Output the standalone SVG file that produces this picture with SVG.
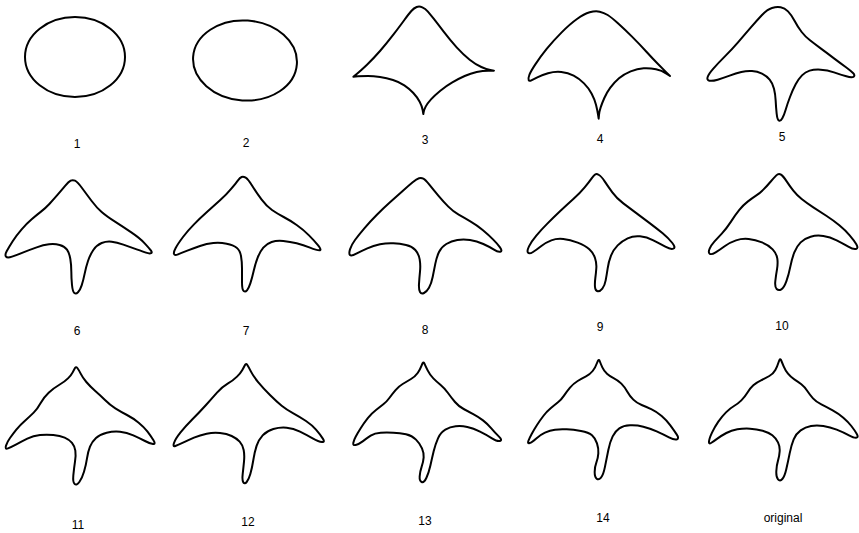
<svg xmlns="http://www.w3.org/2000/svg" width="859" height="533" viewBox="0 0 859 533">
<style>
.o{fill:none;stroke:#000;stroke-width:2}
.c{fill:none;stroke:#000;stroke-width:6;stroke-linejoin:round}
.t{font-family:"Liberation Sans",Arial,sans-serif;font-size:12px;fill:#000;text-anchor:middle}
</style>
<rect width="859" height="533" fill="#fff"/>
<g id="shape-1">
<ellipse class="o" cx="75" cy="57" rx="50" ry="40"/>
<text class="t" x="77" y="148">1</text>
</g>
<g id="shape-2">
<ellipse class="o" cx="245" cy="60.5" rx="52" ry="40" transform="rotate(4 245 60.5)"/>
<text class="t" x="246" y="147">2</text>
</g>
<g id="shape-3">
<path class="c" transform="translate(340,0) scale(0.33333)" d="M230,21 Q238,18 247,22 Q256,26 263,34 Q270,42 281,56 Q292,70 311,95 Q330,120 350,142 Q370,164 389,179 Q408,194 424,201 Q440,208 451,210 L462,212 L445,212 Q428,212 410,216 Q392,220 374,228 Q356,236 337,247 Q318,258 301,272 Q284,286 273,298 Q262,310 257,320 Q252,330 251,336 L250,342 L248,330 Q246,318 239,305 Q232,292 220,279 Q208,266 193,256 Q178,246 159,240 Q140,234 120,231 Q100,228 84,228 Q68,228 54,229 L40,230 L51,221 Q62,212 81,194 Q100,176 120,153 Q140,130 160,104 Q180,78 193,60 Q206,42 214,33 Q222,24 230,21 Z"/>
<text class="t" x="425" y="144">3</text>
</g>
<g id="shape-4">
<path class="c" transform="translate(340,0) scale(0.33333)" d="M749,37 Q766,32 779,35 Q792,38 803,45 Q814,52 833,69 Q852,86 876,110 Q900,134 920,156 Q940,178 954,192 Q968,206 979,217 L990,228 L978,220 Q966,212 948,208 Q930,204 911,205 Q892,206 872,214 Q852,222 837,235 Q822,248 811,263 Q800,278 793,294 Q786,310 782,322 Q778,334 777,345 L776,356 L774,343 Q772,330 768,314 Q764,298 755,281 Q746,264 732,250 Q718,236 701,227 Q684,218 664,216 Q644,214 624,220 Q604,226 592,232 Q580,238 574,241 Q568,244 566,240 Q564,236 568,225 Q572,214 586,193 Q600,172 620,147 Q640,122 665,97 Q690,72 711,57 Q732,42 749,37 Z"/>
<text class="t" x="600" y="143">4</text>
</g>
<g id="shape-5">
<path class="c" transform="translate(340,0) scale(0.33333)" d="M1296,24 Q1310,20 1322,22 Q1334,24 1344,34 Q1354,44 1364,63 Q1374,82 1385,96 Q1396,110 1410,121 Q1424,132 1443,146 Q1462,160 1482,175 Q1502,190 1517,201 Q1532,212 1539,219 Q1546,226 1541,230 Q1536,234 1519,229 Q1502,224 1482,217 Q1462,210 1442,209 Q1422,208 1409,212 Q1396,216 1386,226 Q1376,236 1367,253 Q1358,270 1350,291 Q1342,312 1337,329 Q1332,346 1327,355 Q1322,364 1317,362 Q1312,360 1310,341 Q1308,322 1307,302 Q1306,282 1302,266 Q1298,250 1289,239 Q1280,228 1266,221 Q1252,214 1236,213 Q1220,212 1204,216 Q1188,220 1169,227 Q1150,234 1133,239 Q1116,244 1108,242 Q1100,240 1103,231 Q1106,222 1120,206 Q1134,190 1154,170 Q1174,150 1194,127 Q1214,104 1232,83 Q1250,62 1266,45 Q1282,28 1296,24 Z"/>
<text class="t" x="782" y="141">5</text>
</g>
<g id="shape-6">
<path class="c" transform="translate(0,165) scale(0.33333)" d="M212,47 Q218,44 225,47 Q232,50 246,69 Q260,88 275,108 Q290,128 305,141 Q320,154 345,170 Q370,186 395,203 Q420,220 434,235 Q448,250 453,257 Q458,264 452,265 Q446,266 438,263 Q430,260 410,253 Q390,246 370,239 Q350,232 335,230 Q320,228 305,234 Q290,240 280,255 Q270,270 264,288 Q258,306 254,326 Q250,346 245,361 Q240,376 234,382 Q228,388 223,384 Q218,380 216,360 Q214,340 214,320 Q214,300 211,282 Q208,264 201,254 Q194,244 179,240 Q164,236 147,238 Q130,240 110,247 Q90,254 70,262 Q50,270 36,275 Q22,280 18,275 Q14,270 20,259 Q26,248 38,229 Q50,210 65,193 Q80,176 95,163 Q110,150 123,140 Q136,130 148,117 Q160,104 173,89 Q186,74 196,62 Q206,50 212,47 Z"/>
<text class="t" x="77" y="335">6</text>
</g>
<g id="shape-7">
<path class="c" transform="translate(0,165) scale(0.33333)" d="M725,36 Q730,34 737,38 Q744,42 757,63 Q770,84 785,104 Q800,124 816,135 Q832,146 851,156 Q870,166 890,180 Q910,194 927,211 Q944,228 955,242 Q966,256 958,256 Q950,256 930,248 Q910,240 890,235 Q870,230 850,228 Q830,226 815,231 Q800,236 790,248 Q780,260 773,278 Q766,296 761,318 Q756,340 751,355 Q746,370 741,376 Q736,382 731,378 Q726,374 726,352 Q726,330 726,310 Q726,290 723,273 Q720,256 710,248 Q700,240 680,236 Q660,232 640,234 Q620,236 600,243 Q580,250 562,257 Q544,264 534,268 Q524,272 522,267 Q520,262 527,249 Q534,236 549,216 Q564,196 582,178 Q600,160 620,142 Q640,124 660,106 Q680,88 694,71 Q708,54 714,46 Q720,38 725,36 Z"/>
<text class="t" x="246" y="335">7</text>
</g>
<g id="shape-8">
<path class="c" transform="translate(340,165) scale(0.33333)" d="M237,40 Q244,38 250,41 Q256,44 268,59 Q280,74 295,92 Q310,110 325,125 Q340,140 356,149 Q372,158 391,169 Q410,180 428,195 Q446,210 459,223 Q472,236 480,247 Q488,258 481,260 Q474,262 462,254 Q450,246 430,237 Q410,228 390,225 Q370,222 352,225 Q334,228 319,237 Q304,246 297,261 Q290,276 286,296 Q282,316 278,336 Q274,356 267,368 Q260,380 252,384 Q244,388 240,381 Q236,374 237,357 Q238,340 240,320 Q242,300 239,283 Q236,266 226,255 Q216,244 198,240 Q180,236 160,235 Q140,234 120,238 Q100,242 82,250 Q64,258 49,266 Q34,274 30,270 Q26,266 30,253 Q34,240 45,225 Q56,210 73,190 Q90,170 110,150 Q130,130 150,112 Q170,94 188,78 Q206,62 218,52 Q230,42 237,40 Z"/>
<text class="t" x="425" y="334">8</text>
</g>
<g id="shape-9">
<path class="c" transform="translate(430,165) scale(0.33333)" d="M496,28 Q500,26 507,30 Q514,34 524,49 Q534,64 547,82 Q560,100 580,115 Q600,130 620,145 Q640,160 660,175 Q680,190 698,205 Q716,220 727,234 Q738,248 730,251 Q722,254 706,245 Q690,236 670,226 Q650,216 630,214 Q610,212 593,220 Q576,228 563,241 Q550,254 543,272 Q536,290 533,310 Q530,330 527,346 Q524,362 517,371 Q510,380 503,379 Q496,378 495,366 Q494,354 496,339 Q498,324 499,309 Q500,294 495,279 Q490,264 478,253 Q466,242 443,233 Q420,224 400,222 Q380,220 364,226 Q348,232 334,243 Q320,254 309,261 Q298,268 294,263 Q290,258 297,244 Q304,230 319,212 Q334,194 352,176 Q370,158 390,139 Q410,120 430,102 Q450,84 464,67 Q478,50 485,40 Q492,30 496,28 Z"/>
<text class="t" x="600" y="331">9</text>
</g>
<g id="shape-10">
<path class="c" transform="translate(430,165) scale(0.33333)" d="M1039,31 Q1046,24 1053,29 Q1060,34 1070,49 Q1080,64 1090,77 Q1100,90 1115,102 Q1130,114 1150,127 Q1170,140 1190,153 Q1210,166 1228,181 Q1246,196 1259,211 Q1272,226 1279,238 Q1286,250 1278,252 Q1270,254 1255,245 Q1240,236 1220,226 Q1200,216 1180,213 Q1160,210 1142,215 Q1124,220 1112,232 Q1100,244 1093,262 Q1086,280 1081,305 Q1076,330 1069,349 Q1062,368 1054,373 Q1046,378 1040,372 Q1034,366 1036,348 Q1038,330 1041,313 Q1044,296 1042,281 Q1040,266 1028,253 Q1016,240 996,232 Q976,224 956,222 Q936,220 918,226 Q900,232 885,243 Q870,254 857,262 Q844,270 839,266 Q834,262 839,251 Q844,240 853,230 Q862,220 876,205 Q890,190 903,170 Q916,150 928,135 Q940,120 953,110 Q966,100 978,92 Q990,84 1000,74 Q1010,64 1021,51 Q1032,38 1039,31 Z"/>
<text class="t" x="782" y="330">10</text>
</g>
<g id="shape-11">
<path class="c" transform="translate(0,345) scale(0.33333)" d="M225,69 Q228,64 232,69 Q236,74 242,86 Q248,98 259,111 Q270,124 285,137 Q300,150 315,165 Q330,180 346,190 Q362,200 381,210 Q400,220 416,233 Q432,246 442,259 Q452,272 460,285 Q468,298 459,297 Q450,296 435,288 Q420,280 400,271 Q380,262 360,260 Q340,258 320,263 Q300,268 288,279 Q276,290 270,305 Q264,320 261,340 Q258,360 252,380 Q246,400 238,411 Q230,422 224,417 Q218,412 220,391 Q222,370 225,350 Q228,330 226,317 Q224,304 216,294 Q208,284 194,278 Q180,272 160,270 Q140,268 120,270 Q100,272 82,281 Q64,290 49,298 Q34,306 24,310 Q14,314 18,302 Q22,290 30,279 Q38,268 49,254 Q60,240 75,227 Q90,214 101,203 Q112,192 122,174 Q132,156 146,143 Q160,130 177,120 Q194,110 204,100 Q214,90 218,82 Q222,74 225,69 Z"/>
<text class="t" x="78" y="529">11</text>
</g>
<g id="shape-12">
<path class="c" transform="translate(0,345) scale(0.33333)" d="M735,60 Q738,54 742,60 Q746,66 753,80 Q760,94 775,112 Q790,130 810,150 Q830,170 845,182 Q860,194 880,205 Q900,216 918,228 Q936,240 948,254 Q960,268 968,280 Q976,292 966,291 Q956,290 938,280 Q920,270 900,260 Q880,250 860,248 Q840,246 820,252 Q800,258 788,271 Q776,284 770,302 Q764,320 760,345 Q756,370 751,387 Q746,404 740,411 Q734,418 730,412 Q726,406 728,388 Q730,370 732,350 Q734,330 731,315 Q728,300 719,290 Q710,280 695,273 Q680,266 660,264 Q640,262 620,266 Q600,270 582,278 Q564,286 549,293 Q534,300 526,303 Q518,306 522,294 Q526,282 541,263 Q556,244 578,222 Q600,200 618,180 Q636,160 651,143 Q666,126 683,116 Q700,106 711,95 Q722,84 727,75 Q732,66 735,60 Z"/>
<text class="t" x="248" y="526">12</text>
</g>
<g id="shape-13">
<path class="c" transform="translate(340,345) scale(0.33333)" d="M245,61 Q250,48 253,55 Q256,62 263,76 Q270,90 280,100 Q290,110 302,120 Q314,130 324,144 Q334,158 345,171 Q356,184 371,192 Q386,200 401,208 Q416,216 429,226 Q442,236 454,250 Q466,264 477,275 Q488,286 480,288 Q472,290 456,280 Q440,270 420,260 Q400,250 382,246 Q364,242 347,244 Q330,246 316,254 Q302,262 294,280 Q286,298 281,319 Q276,340 271,362 Q266,384 259,399 Q252,414 245,411 Q238,408 239,394 Q240,380 245,365 Q250,350 251,337 Q252,324 246,310 Q240,296 228,284 Q216,272 198,268 Q180,264 160,263 Q140,262 122,263 Q104,264 92,272 Q80,280 68,289 Q56,298 47,300 Q38,302 40,293 Q42,284 47,275 Q52,266 62,250 Q72,234 84,219 Q96,204 108,195 Q120,186 130,178 Q140,170 148,159 Q156,148 166,136 Q176,124 188,117 Q200,110 213,102 Q226,94 233,84 Q240,74 245,61 Z"/>
<text class="t" x="425" y="525">13</text>
</g>
<g id="shape-14">
<path class="c" transform="translate(430,345) scale(0.33333)" d="M501,54 Q506,40 509,48 Q512,56 517,67 Q522,78 531,86 Q540,94 552,100 Q564,106 574,116 Q584,126 592,140 Q600,154 610,164 Q620,174 635,180 Q650,186 665,193 Q680,200 695,213 Q710,226 721,241 Q732,256 740,268 Q748,280 741,283 Q734,286 717,277 Q700,268 680,259 Q660,250 640,245 Q620,240 600,241 Q580,242 568,250 Q556,258 548,274 Q540,290 535,315 Q530,340 525,365 Q520,390 513,398 Q506,406 500,401 Q494,396 494,381 Q494,366 499,353 Q504,340 505,325 Q506,310 501,295 Q496,280 486,271 Q476,262 453,258 Q430,254 410,253 Q390,252 375,254 Q360,256 345,263 Q330,270 318,281 Q306,292 299,294 Q292,296 295,288 Q298,280 305,267 Q312,254 321,240 Q330,226 340,213 Q350,200 362,190 Q374,180 384,172 Q394,164 402,152 Q410,140 420,128 Q430,116 443,108 Q456,100 468,94 Q480,88 488,78 Q496,68 501,54 Z"/>
<text class="t" x="603" y="522">14</text>
</g>
<g id="shape-original">
<path class="c" transform="translate(690,345) scale(0.33333)" d="M266,51 Q270,38 273,45 Q276,52 281,64 Q286,76 294,86 Q302,96 313,103 Q324,110 334,118 Q344,126 352,138 Q360,150 369,160 Q378,170 394,178 Q410,186 428,196 Q446,206 460,218 Q474,230 484,243 Q494,256 500,266 Q506,276 500,278 Q494,280 477,271 Q460,262 440,254 Q420,246 400,243 Q380,240 363,243 Q346,246 332,256 Q318,266 311,283 Q304,300 299,325 Q294,350 289,372 Q284,394 277,402 Q270,410 264,403 Q258,396 259,378 Q260,360 264,347 Q268,334 269,319 Q270,304 264,292 Q258,280 247,271 Q236,262 218,257 Q200,252 180,251 Q160,250 142,253 Q124,256 109,264 Q94,272 82,281 Q70,290 63,294 Q56,298 57,289 Q58,280 66,263 Q74,246 85,230 Q96,214 108,202 Q120,190 132,183 Q144,176 154,166 Q164,156 172,143 Q180,130 190,121 Q200,112 213,106 Q226,100 238,93 Q250,86 256,75 Q262,64 266,51 Z"/>
<text class="t" x="783" y="522">original</text>
</g>
</svg>
